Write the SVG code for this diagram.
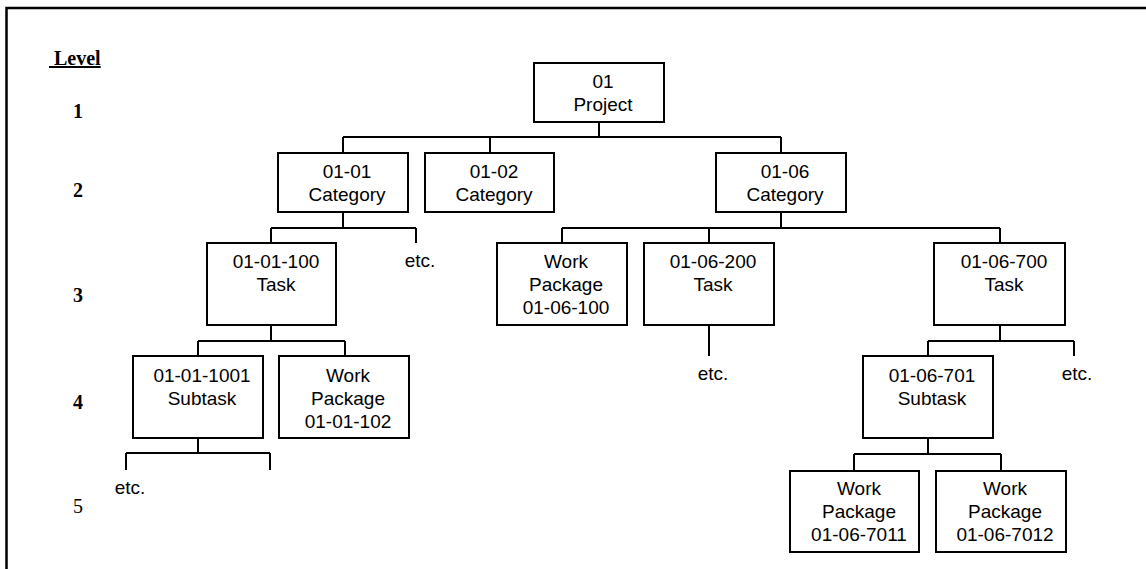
<svg xmlns="http://www.w3.org/2000/svg" width="1146" height="569" viewBox="0 0 1146 569">
<style>
.box{fill:#fff;stroke:#000;stroke-width:2}
.t{font-family:"Liberation Sans",Arial,sans-serif;font-size:19px;fill:#000;text-anchor:middle}
.lv{font-family:"Liberation Serif","Times New Roman",serif;font-size:20px;fill:#000;text-anchor:middle;font-weight:bold}
.cn{fill:none;stroke:#000;stroke-width:2}
</style>
<rect width="1146" height="569" fill="#fff"/>
<g id="frame" fill="none" stroke="#000" stroke-width="2.5">
<path d="M6.5,569 V8 H1146"/>
</g>
<g id="levels">
<text x="49" y="65" xml:space="preserve" class="lv" style="text-anchor:start;text-decoration:underline"> Level</text>
<text x="78" y="118" class="lv">1</text>
<text x="78" y="197" class="lv">2</text>
<text x="78" y="302" class="lv">3</text>
<text x="78" y="409" class="lv">4</text>
<text x="78" y="513" class="lv" style="font-weight:normal">5</text>
</g>
<g id="connectors" class="cn">
<path d="M599,122 V137 M343,137 H781 M343,137 V153 M490,137 V153 M781,137 V153"/>
<path d="M343,212 V228 M271,228 H416 M271,228 V243 M416,228 V243"/>
<path d="M781,212 V228 M562,228 H1000 M562,228 V243 M709,228 V243 M1000,228 V243"/>
<path d="M709,325 V356"/>
<path d="M271,325 V341 M198,341 H345 M198,341 V356 M345,341 V356"/>
<path d="M1000,325 V341 M928,341 H1074 M928,341 V356 M1074,341 V356"/>
<path d="M928,438 V454 M854,454 H1001 M854,454 V471 M1001,454 V471"/>
<path d="M198,438 V453 M126,453 H270 M126,453 V470 M270,453 V470"/>
</g>
<g id="etc">
<text x="420" y="267" class="t">etc.</text>
<text x="713" y="380" class="t">etc.</text>
<text x="1077" y="380" class="t">etc.</text>
<text x="130" y="494" class="t">etc.</text>
</g>
<g id="n01"><rect class="box" x="534" y="63" width="130" height="59"/><text class="t" x="603" y="88">01</text><text class="t" x="603" y="111">Project</text></g>
<g id="n01-01"><rect class="box" x="278" y="153" width="130" height="59"/><text class="t" x="347" y="178">01-01</text><text class="t" x="347" y="201">Category</text></g>
<g id="n01-02"><rect class="box" x="425" y="153" width="129" height="59"/><text class="t" x="494" y="178">01-02</text><text class="t" x="494" y="201">Category</text></g>
<g id="n01-06"><rect class="box" x="716" y="153" width="130" height="59"/><text class="t" x="785" y="178">01-06</text><text class="t" x="785" y="201">Category</text></g>
<g id="n01-01-100"><rect class="box" x="207" y="243" width="129" height="82"/><text class="t" x="276" y="268">01-01-100</text><text class="t" x="276" y="291">Task</text></g>
<g id="n01-06-100"><rect class="box" x="497" y="243" width="130" height="82"/><text class="t" x="566" y="268">Work</text><text class="t" x="566" y="291">Package</text><text class="t" x="566" y="314">01-06-100</text></g>
<g id="n01-06-200"><rect class="box" x="644" y="243" width="130" height="82"/><text class="t" x="713" y="268">01-06-200</text><text class="t" x="713" y="291">Task</text></g>
<g id="n01-06-700"><rect class="box" x="934" y="243" width="131" height="82"/><text class="t" x="1004" y="268">01-06-700</text><text class="t" x="1004" y="291">Task</text></g>
<g id="n01-01-1001"><rect class="box" x="133" y="356" width="130" height="82"/><text class="t" x="202" y="382">01-01-1001</text><text class="t" x="202" y="405">Subtask</text></g>
<g id="n01-01-102"><rect class="box" x="279" y="356" width="130" height="82"/><text class="t" x="348" y="382">Work</text><text class="t" x="348" y="405">Package</text><text class="t" x="348" y="428">01-01-102</text></g>
<g id="n01-06-701"><rect class="box" x="863" y="356" width="130" height="82"/><text class="t" x="932" y="382">01-06-701</text><text class="t" x="932" y="405">Subtask</text></g>
<g id="n01-06-7011"><rect class="box" x="790" y="471" width="129" height="81"/><text class="t" x="859" y="495">Work</text><text class="t" x="859" y="518">Package</text><text class="t" x="859" y="541">01-06-7011</text></g>
<g id="n01-06-7012"><rect class="box" x="936" y="471" width="130" height="81"/><text class="t" x="1005" y="495">Work</text><text class="t" x="1005" y="518">Package</text><text class="t" x="1005" y="541">01-06-7012</text></g>
</svg>
